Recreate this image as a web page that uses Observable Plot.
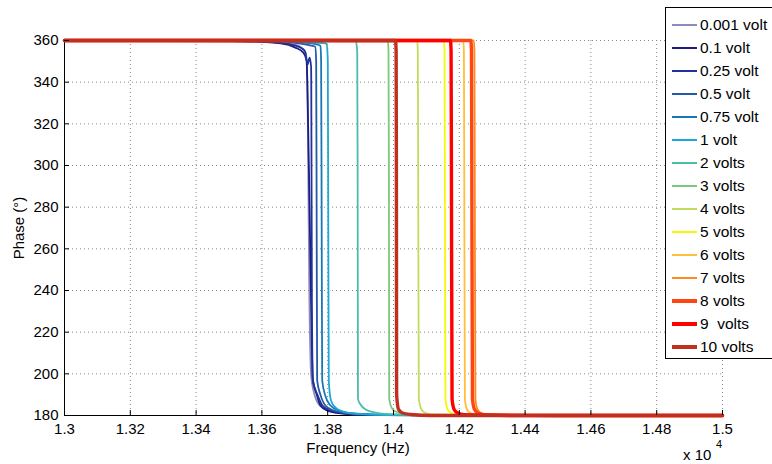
<!DOCTYPE html>
<html><head><meta charset="utf-8">
<script src="https://cdn.jsdelivr.net/npm/d3@7"></script>
<script src="https://cdn.jsdelivr.net/npm/@observablehq/plot@0.6"></script>
<style>
body{margin:0;background:#fff;font-family:"Liberation Sans",Arial,sans-serif;color:#000;}
#wrap{position:relative;width:772px;height:464px;overflow:hidden;}
#legend{position:absolute;left:665px;top:7px;width:140px;height:352px;border:1.5px solid #000;background:#fff;box-sizing:border-box;}
.row{position:absolute;left:0;height:20px;display:flex;align-items:center;white-space:pre;font-size:15.5px;}
.sw{width:25px;margin-left:6px;margin-right:3px;}
.lab{position:absolute;font-size:15px;white-space:nowrap;}
</style>
</head><body>
<div id="wrap"><div id="chart"></div><div id="legend"></div>
<div class="lab" style="left:358px;top:447px;transform:translate(-50%,-50%);">Frequency (Hz)</div>
<div class="lab" style="left:18px;top:228px;transform:translate(-50%,-50%) rotate(-90deg);">Phase (°)</div>
<div class="lab" style="left:683px;top:446px;">x 10</div>
<div class="lab" style="left:716px;top:438px;font-size:11px;">4</div>
</div>
<script>
// ---- data (frequency in units of 10^4 Hz, phase in degrees) ----
const voltLabels = ["0.001 volt","0.1 volt","0.25 volt","0.5 volt","0.75 volt","1 volt","2 volts","3 volts","4 volts","5 volts","6 volts","7 volts","8 volts","9  volts","10 volts"];
const xTicks = [1.3,1.32,1.34,1.36,1.38,1.4,1.42,1.44,1.46,1.48,1.5];
const yTicks = [180,200,220,240,260,280,300,320,340,360];

const f_0001 = [1.30, 1.36, 1.370, 1.3734, 1.3739, 1.3744, 1.3750, 1.3760, 1.3778, 1.3820, 1.3900, 1.50];
const p_0001 = [360, 359.5, 358, 354, 330, 240, 199, 190, 184.5, 181.5, 180.4, 180];
const f_01 = [1.30, 1.34, 1.3565, 1.3657, 1.3702, 1.3726, 1.3736, 1.3738, 1.3746, 1.3755, 1.3766, 1.3778, 1.3799, 1.3839, 1.3930, 1.50];
const p_01 = [360, 360, 359.5, 358.6, 356.6, 354.2, 350.4, 340.8, 268.8, 196.8, 190.4, 184.8, 182.4, 181.0, 180.2, 180];
const f_025 = [1.30, 1.35, 1.3626, 1.3702, 1.3730, 1.3739, 1.3745, 1.37495, 1.3750, 1.3752, 1.3755, 1.3769, 1.3784, 1.3809, 1.3854, 1.3961, 1.50];
const p_025 = [360, 360, 359.3, 357.6, 355.2, 348.5, 351.8, 347.5, 340.8, 235, 196.8, 189.9, 184.8, 182.4, 181.0, 180.2, 180];
const f_05 = [1.30, 1.355, 1.3657, 1.3717, 1.3750, 1.3762, 1.3765, 1.37665, 1.3768, 1.3778, 1.3793, 1.3818, 1.3863, 1.3991, 1.50];
const p_05 = [360, 360, 359.6, 358.5, 357.5, 357, 350, 270, 196.8, 189.9, 184.8, 182.4, 181.0, 180.2, 180];
const f_075 = [1.30, 1.36, 1.3657, 1.3720, 1.3765, 1.3778, 1.3780, 1.37817, 1.37833, 1.3793, 1.38085, 1.3833, 1.3875, 1.4021, 1.50];
const p_075 = [360, 360, 359.8, 359, 358.2, 357.5, 350, 270, 196.8, 189.4, 184.8, 182.4, 181.0, 180.2, 180];
const f_1 = [1.30, 1.365, 1.3700, 1.3760, 1.3797, 1.38003, 1.38018, 1.38033, 1.3810, 1.38237, 1.3848, 1.38997, 1.4052, 1.50];
const p_1 = [360, 360, 359.8, 359, 358.5, 350, 270, 196.8, 187.2, 183.8, 181.9, 180.7, 180.1, 180];
const f_2 = [1.30, 1.3885, 1.38897, 1.3891, 1.3892, 1.38997, 1.39149, 1.39453, 1.4006, 1.42, 1.50];
const p_2 = [360, 360, 355, 300, 188, 185.3, 182.9, 181.4, 180.5, 180, 180];
const f_3 = [1.30, 1.3983, 1.39848, 1.3986, 1.3987, 1.3994, 1.40061, 1.40365, 1.42, 1.50];
const p_3 = [360, 360, 355, 300, 188, 183.8, 181.9, 180.7, 180, 180];
const f_4 = [1.30, 1.4072, 1.40739, 1.4075, 1.4077, 1.40851, 1.40973, 1.41216, 1.43, 1.50];
const p_4 = [360, 360, 355, 300, 188, 182.9, 181.2, 180.5, 180, 180];
const f_5 = [1.30, 1.4153, 1.4155, 1.4156, 1.4158, 1.4164, 1.4175, 1.4195, 1.44, 1.50];
const p_5 = [360, 360, 355, 300, 188, 183, 181.2, 180.4, 180, 180];
const f_6 = [1.30, 1.4212, 1.4214, 1.4215, 1.4217, 1.4223, 1.4234, 1.4254, 1.45, 1.50];
const p_6 = [360, 360, 355, 300, 188, 183, 181.2, 180.4, 180, 180];
const f_7 = [1.30, 1.4244, 1.4246, 1.4247, 1.4249, 1.4255, 1.4266, 1.4286, 1.45, 1.50];
const p_7 = [360, 360, 355, 300, 188, 183, 181.2, 180.4, 180, 180];
const f_8 = [1.30, 1.4235, 1.4237, 1.4238, 1.4240, 1.4246, 1.4257, 1.4277, 1.45, 1.50];
const p_8 = [360, 360, 355, 300, 188, 183, 181.2, 180.4, 180, 180];
const f_9 = [1.30, 1.4173, 1.4175, 1.4176, 1.4178, 1.4184, 1.4195, 1.4215, 1.44, 1.50];
const p_9 = [360, 360, 355, 300, 188, 183, 181.2, 180.4, 180, 180];
const f_10 = [1.30, 1.4006, 1.4008, 1.40088, 1.40095, 1.40152, 1.40274, 1.40517, 1.4113, 1.50];
const p_10 = [360, 360, 355, 300, 190, 182.9, 181.2, 180.5, 180, 180];

// ---- styles ----
const seriesColors = ["#8c8cbe","#1c1c84","#23329a","#2458a8","#1878b4","#1ea8d4","#4cbcaa","#7cc87c","#c0dc5c","#f8f800","#ffbf3c","#ff8a1e","#ff4612","#ff0000","#c03020"];
const seriesWidths = [1.8,1.8,1.8,1.8,1.8,1.8,1.8,1.8,1.8,1.8,1.8,1.8,3.4,3.4,3.4];

const freqs = [f_0001,f_01,f_025,f_05,f_075,f_1,f_2,f_3,f_4,f_5,f_6,f_7,f_8,f_9,f_10];
const phases = [p_0001,p_01,p_025,p_05,p_075,p_1,p_2,p_3,p_4,p_5,p_6,p_7,p_8,p_9,p_10];
const series = voltLabels.map((label, i) => freqs[i].map((f, j) => ({label, f, p: phases[i][j]})));

const xDomain = [xTicks[0], xTicks[xTicks.length-1]];
const yDomain = [yTicks[0], yTicks[yTicks.length-1]];

const marks = [
  Plot.gridX(xTicks, {stroke: "#888", strokeOpacity: 1, strokeDasharray: "1,3"}),
  Plot.gridY(yTicks, {stroke: "#888", strokeOpacity: 1, strokeDasharray: "1,3"}),
  Plot.ruleX([xDomain[0]], {stroke: "#000"}),
  Plot.ruleY([yDomain[0]], {stroke: "#000"})
];
series.forEach((s, i) => {
  marks.push(Plot.line(s, {x: "f", y: "p", stroke: seriesColors[i], strokeWidth: seriesWidths[i], curve: "monotone-x"}));
});
marks.push(
  Plot.axisX(xTicks, {tickSize: -5, tickPadding: 13, tickFormat: d => String(+d.toFixed(2)), label: null, stroke: "#000"}),
  Plot.axisY(yTicks, {tickSize: -5, tickPadding: 11, label: null, stroke: "#000"})
);

const chart = Plot.plot({
  width: 772, height: 464,
  marginLeft: 64, marginRight: 50, marginTop: 40, marginBottom: 49,
  x: {domain: xDomain},
  y: {domain: yDomain},
  style: {fontSize: "15px", fontFamily: "Liberation Sans, Arial, sans-serif", color: "#000", background: "#fff", overflow: "visible"},
  marks
});
document.getElementById("chart").appendChild(chart);

// legend
const leg = document.getElementById("legend");
voltLabels.forEach((label, i) => {
  const row = document.createElement("div");
  row.className = "row";
  row.style.top = (7 + 23 * i) + "px";
  const sw = document.createElement("div");
  sw.className = "sw";
  sw.style.height = seriesWidths[i] + "px";
  sw.style.background = seriesColors[i];
  const t = document.createElement("span");
  t.textContent = label;
  row.appendChild(sw); row.appendChild(t);
  leg.appendChild(row);
});
</script>
</body></html>
